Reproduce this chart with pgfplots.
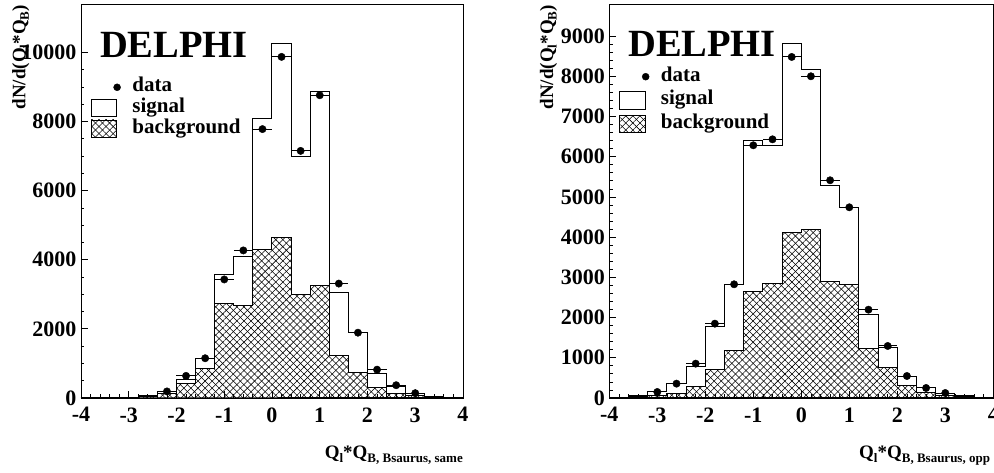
\documentclass[border=0pt]{standalone}
\usepackage{fontspec}
\setmainfont{Liberation Serif}
\usepackage{pgfplots}
\usepackage{pgfplotstable}
\pgfplotsset{compat=1.18}
\usetikzlibrary{patterns.meta}

% left: bin left edge, total (signal+background), background
\pgfplotstableread{
x tot bkg
-4.0 0 0
-3.6 5 3
-3.2 15 10
-2.8 70 50
-2.4 190 120
-2.0 540 430
-1.6 1140 845
-1.2 3560 2730
-0.8 4080 2680
-0.4 8080 4300
0.0 10270 4650
0.4 7000 2990
0.8 8860 3250
1.2 3060 1230
1.6 1890 735
2.0 720 300
2.4 320 125
2.8 140 75
3.2 45 30
3.6 10 5
4.0 10 5
}\histL
\pgfplotstableread{
x y
-2.2 190
-1.8 640
-1.4 1150
-1.0 3430
-0.6 4270
-0.2 7780
0.2 9870
0.6 7150
1.0 8760
1.4 3310
1.8 1890
2.2 820
2.6 370
3.0 140
}\dataL
% right
\pgfplotstableread{
x tot bkg
-4.0 10 5
-3.6 55 25
-3.2 170 66
-2.8 357 124
-2.4 771 274
-2.0 1770 713
-1.6 2830 1186
-1.2 6410 2637
-0.8 6270 2844
-0.4 8810 4113
0.0 8170 4187
0.4 5275 2910
0.8 4735 2819
1.2 2065 1219
1.6 1245 755
2.0 540 315
2.4 250 149
2.8 124 66
3.2 50 25
3.6 10 5
4.0 10 5
}\histR
\pgfplotstableread{
x y
-3.0 150
-2.6 357
-2.2 854
-1.8 1849
-1.4 2828
-1.0 6285
-0.6 6434
-0.2 8483
0.2 8002
0.6 5415
1.0 4743
1.4 2197
1.8 1294
2.2 547
2.6 249
3.0 124
}\dataR

\newcommand{\subs}[1]{\raisebox{-3.5pt}{\fontsize{13}{13}\selectfont\bfseries #1}}
\newcommand{\ylab}{\fontsize{19}{19}\selectfont\bfseries dN/d(Q\subs{l}*Q\subs{B})}

\tikzset{
  hatchA/.style={pattern={Lines[angle=45,distance=5pt,line width=0.55pt]}, pattern color=black},
  hatchB/.style={pattern={Lines[angle=-45,distance=5pt,line width=0.55pt]}, pattern color=black},
}

\pgfplotsset{
  delphi/.style={
    scale only axis, height=394pt,
    xmin=-4, xmax=4, ymin=0,
    axis line style={line width=0.8pt},
    tick align=inside, tick pos=left,
    major tick length=7pt, minor tick length=3.5pt,
    every tick/.append style={black, line width=0.8pt},
    xtick={-4,-3,-2,-1,0,1,2,3,4}, minor x tick num=4,
    scaled y ticks=false,
    /pgf/number format/assume math mode=true,
    /pgf/number format/1000 sep={},
    tick label style={font=\fontsize{22}{22}\selectfont\bfseries},
    yticklabel style={inner sep=0pt, xshift=-4.3pt},
    xticklabel style={inner sep=0pt, yshift=-9.3pt},
    legend cell align=left,
    legend style={draw=none, fill=none, inner sep=0pt, outer sep=0pt,
      font=\fontsize{21}{21}\selectfont\bfseries, column sep=11.8pt,
      nodes={text height=14pt, text depth=5pt, inner sep=0pt}},
    clip=false,
  },
  tot/.style={const plot, black, line width=1pt, forget plot},
  bkgA/.style={const plot, draw=none, hatchA, forget plot},
  bkgB/.style={const plot, draw=black, line width=1pt, hatchB, forget plot},
  dat/.style={only marks, mark=*, mark size=3.7pt, black, forget plot,
    error bars/.cd, x dir=both, x fixed=0.2, error mark=none,
    error bar style={line width=1pt, black}},
  legdata/.style={legend image code/.code={\path[draw=none, fill=none] (0pt,-9pt) rectangle (26pt,9pt);
    \draw[only marks, mark=*, mark size=3.5pt, black] plot coordinates {(26pt,0pt)};}},
  legsig/.style={legend image code/.code={\path[draw=none, fill=none] (0pt,-9pt) rectangle (26pt,9pt);
    \draw[black, line width=0.8pt, fill=white] (0pt,-8.7pt) rectangle (25.3pt,8.7pt);}},
  legbkg/.style={legend image code/.code={\path[draw=none, fill=none] (0pt,-9pt) rectangle (26pt,9pt);
    \path[hatchA] (0pt,-8.7pt) rectangle (25.3pt,8.7pt);
    \draw[black, line width=0.8pt, hatchB] (0pt,-8.7pt) rectangle (25.3pt,8.7pt);}},
}

\begin{document}
\begin{tikzpicture}
%---------------- left ----------------
\begin{axis}[delphi, at={(81pt,75pt)}, anchor=south west, width=382pt,
  ymax=11400, ytick={0,2000,4000,6000,8000,10000}, minor y tick num=3,
  legend style={at={(axis description cs:0.0254,0.8127)}, anchor=north west, row sep=1.7pt}]
\addplot[tot] table[x=x, y=tot] {\histL};
\addplot[bkgA] table[x=x, y=bkg] {\histL} \closedcycle;
\addplot[bkgB] table[x=x, y=bkg] {\histL} \closedcycle;
\addplot[dat] table[x=x, y=y] {\dataL};
\addlegendimage{legdata}
\addlegendentry{data}
\addlegendimage{legsig}
\addlegendentry{signal}
\addlegendimage{legbkg}
\addlegendentry{background}
\node[anchor=base west, inner sep=0pt, font=\fontsize{38.5}{38.5}\selectfont\bfseries]
  at (axis description cs:0.0497,0.8647) {DELPHI};
\node[rotate=90, anchor=base east, inner sep=0pt] at (axis description cs:-0.1453,0.9975) {\ylab};
\node[anchor=base east, inner sep=0pt, font=\fontsize{19}{19}\selectfont\bfseries]
  at (axis description cs:1.0,-0.1548) {Q\subs{l}*Q\subs{B, Bsaurus, same}};
\end{axis}
%---------------- right ----------------
\begin{axis}[delphi, at={(609.3pt,75pt)}, anchor=south west, width=384pt,
  ymax=9800, ytick={0,1000,2000,3000,4000,5000,6000,7000,8000,9000}, minor y tick num=4,
  legend style={at={(axis description cs:0.026,0.8396)}, anchor=north west, row sep=4.6pt}]
\addplot[tot] table[x=x, y=tot] {\histR};
\addplot[bkgA] table[x=x, y=bkg] {\histR} \closedcycle;
\addplot[bkgB] table[x=x, y=bkg] {\histR} \closedcycle;
\addplot[dat] table[x=x, y=y] {\dataR};
\addlegendimage{legdata}
\addlegendentry{data}
\addlegendimage{legsig}
\addlegendentry{signal}
\addlegendimage{legbkg}
\addlegendentry{background}
\node[anchor=base west, inner sep=0pt, font=\fontsize{38.5}{38.5}\selectfont\bfseries]
  at (axis description cs:0.0487,0.8663) {DELPHI};
\node[rotate=90, anchor=base east, inner sep=0pt] at (axis description cs:-0.1466,0.9975) {\ylab};
\node[anchor=base east, inner sep=0pt, font=\fontsize{19}{19}\selectfont\bfseries]
  at (axis description cs:0.992,-0.1548) {Q\subs{l}*Q\subs{B, Bsaurus, opp}};
\end{axis}
\pgfresetboundingbox
\path[use as bounding box] (0pt,0pt) rectangle (994pt,473pt);
\end{tikzpicture}
\end{document}
